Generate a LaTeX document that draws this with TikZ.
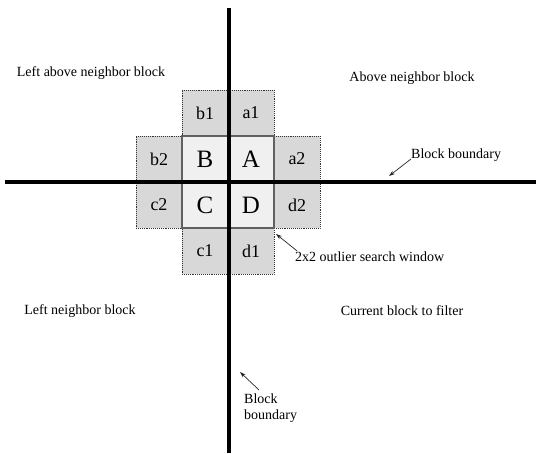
\documentclass[tikz,border=0pt]{standalone}
\usepackage{fontspec}
\setmainfont{Liberation Serif}
\usetikzlibrary{arrows.meta}
\definecolor{outerfill}{RGB}{216,216,216}
\definecolor{innerfill}{RGB}{240,240,240}
\definecolor{winborder}{RGB}{96,96,96}
\tikzset{
  outercell/.style={draw=black!80, densely dotted, line width=0.9pt, fill=outerfill, minimum size=46pt, inner sep=0pt, font=\fontsize{18}{18}\selectfont},
  innercell/.style={fill=innerfill, minimum size=46pt, inner sep=0pt, font=\fontsize{25}{25}\selectfont},
  lbl/.style={font=\fontsize{14}{15.5}\selectfont, inner sep=1pt},
  boundary/.style={line width=4pt, black},
  pointer/.style={-{Stealth[length=6pt,width=4pt]}, line width=0.7pt, black!85}
}
\begin{document}
\begin{tikzpicture}[x=1pt,y=-1pt]
\useasboundingbox (0,0) rectangle (536,453);
% outer cells
\node[outercell] (b1) at (205,113) {b1};
\node[outercell] (a1) at (251,113) {a1};
\node[outercell] (b2) at (159,159) {b2};
\node[outercell] (a2) at (297,159) {a2};
\node[outercell] (c2) at (159,205) {c2};
\node[outercell] (d2) at (297,205) {d2};
\node[outercell] (c1) at (205,251) {c1};
\node[outercell] (d1) at (251,251) {d1};
% inner cells
\node[innercell] (B) at (205,159) {B};
\node[innercell] (A) at (251,159) {A};
\node[innercell] (C) at (205,205) {C};
\node[innercell] (D) at (251,205) {D};
\draw[winborder, line width=2pt] (B.north west) rectangle (D.south east);
% block boundaries
\coordinate (vtop) at (229,8);
\coordinate (vbot) at (229,453);
\coordinate (hleft) at (5,182);
\coordinate (hright) at (536,182);
\draw[boundary] (vtop) -- (vbot);
\draw[boundary] (hleft) -- (hright);
% region labels
\node[lbl] (lab1) at (91,73) {Left above neighbor block};
\node[lbl] (lab2) at (412,78) {Above neighbor block};
\node[lbl] (lab3) at (80,311) {Left neighbor block};
\node[lbl] (lab4) at (402,311) {Current block to filter};
% pointer labels
\node[lbl, anchor=west] (bb1) at (410,155) {Block boundary};
\coordinate (bb1t) at (389,176);
\draw[pointer] (bb1.west) ++(1,4) -- (bb1t);
\node[lbl, anchor=west] (win) at (294,257) {2x2 outlier search window};
\coordinate (wint) at (276,234);
\draw[pointer] (win.north west) ++(3,0) -- (wint);
\node[lbl, align=left, anchor=north west] (bb2) at (243,393) {Block\\boundary};
\coordinate (bb2t) at (240,372);
\coordinate (bb2s) at (259,390);
\draw[pointer] (bb2s) -- (bb2t);
\end{tikzpicture}
\end{document}
